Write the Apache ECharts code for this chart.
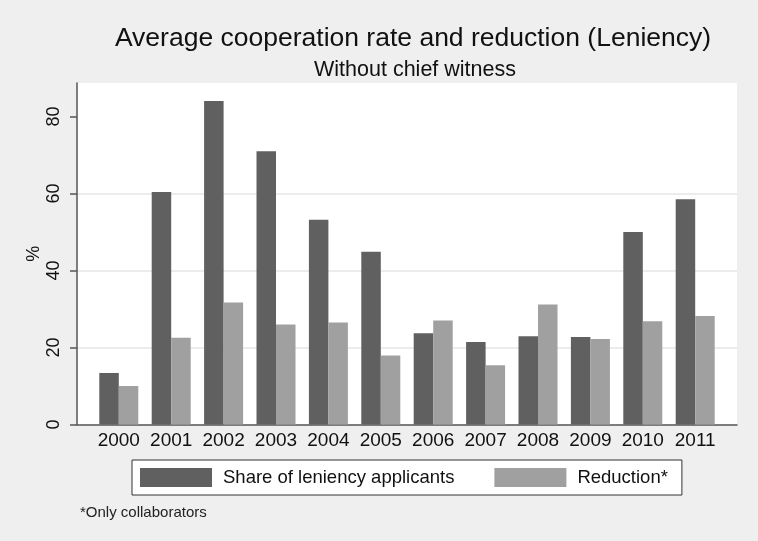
<!DOCTYPE html>
<html><head><meta charset="utf-8">
<script src="https://cdn.jsdelivr.net/npm/echarts@6/dist/echarts.min.js"></script>
<style>html,body{margin:0;padding:0;background:#efefef}#c{width:758px;height:541px}</style>
</head><body><div id="c"></div>
<script>
const categories = ['2000','2001','2002','2003','2004','2005','2006','2007','2008','2009','2010','2011'];
const shareApplicants = [13.4, 60.4, 84.0, 71.0, 53.2, 44.9, 23.7, 21.4, 22.9, 22.7, 50.0, 58.5];
const reduction = [10.0, 22.5, 31.7, 26.0, 26.5, 17.9, 27.0, 15.4, 31.2, 22.2, 26.8, 28.2];
const yTicks = [0, 20, 40, 60, 80];
const seriesNames = ['Share of leniency applicants', 'Reduction*'];

const FONT = '"Liberation Sans", Arial, sans-serif';
const YMAX = 88.7;
const chart = echarts.init(document.getElementById('c'), null, {renderer: 'canvas'});
chart.setOption({
  backgroundColor: '#efefef',
  animation: false,
  title: [
    {text: 'Average cooperation rate and reduction (Leniency)', left: 408, top: 20, textAlign: 'center',
     textStyle: {fontFamily: FONT, fontSize: 26.5, fontWeight: 'normal', color: '#111'}},
    {text: 'Without chief witness', left: 410, top: 54, textAlign: 'center',
     textStyle: {fontFamily: FONT, fontSize: 21.5, fontWeight: 'normal', color: '#111'}}
  ],
  legend: {
    left: 132, top: 460,
    data: seriesNames,
    orient: 'horizontal',
    itemWidth: 72, itemHeight: 19, itemGap: 40,
    padding: [8, 14, 8, 8],
    backgroundColor: '#ffffff',
    borderColor: '#333',
    borderWidth: 1,
    borderRadius: 0,
    icon: 'rect',
    textStyle: {fontFamily: FONT, fontSize: 18.5, color: '#111', padding: [0, 0, 0, 6]}
  },
  graphic: [
    {type: 'text', left: 80, top: 505,
     style: {text: '*Only collaborators', font: '15px "Liberation Sans Narrow", "Liberation Sans", sans-serif', fill: '#222'}}
  ],
  grid: [
    {left: 77, right: 21, top: 83, bottom: 116.5, show: true, backgroundColor: '#ffffff', borderWidth: 0},
    {left: 92.6, right: 36.6, top: 83, bottom: 116.5}
  ],
  xAxis: [
    {gridIndex: 0, type: 'value', min: 0, max: 1,
     axisLine: {show: true, lineStyle: {color: '#555', width: 1.5}},
     axisTick: {show: false}, axisLabel: {show: false}, splitLine: {show: false}},
    {gridIndex: 1, type: 'category', data: categories,
     axisLine: {show: false}, axisTick: {show: false},
     axisLabel: {interval: 0, hideOverlap: false, fontFamily: FONT, fontSize: 19, color: '#111', margin: 7}}
  ],
  yAxis: [
    {gridIndex: 0, type: 'value', min: 0, max: YMAX, interval: 20,
     name: '%', nameLocation: 'middle', nameGap: 33.5, nameRotate: 90, nameMoveOverlap: false,
     nameTextStyle: {fontFamily: FONT, fontSize: 18, color: '#111'},
     axisLine: {show: true, lineStyle: {color: '#555', width: 1.5}},
     axisTick: {show: true, length: 7, customValues: yTicks, lineStyle: {color: '#555', width: 1.5}},
     axisLabel: {rotate: 90, fontFamily: FONT, fontSize: 18, color: '#111', margin: 14,
       customValues: yTicks, formatter: v => yTicks.includes(v) ? String(v) : ''},
     splitLine: {show: true, showMaxLine: false, showMinLine: false, lineStyle: {color: '#e6e6e6', width: 1.5}}},
    {gridIndex: 1, type: 'value', min: 0, max: YMAX, show: false, splitLine: {show: false}}
  ],
  series: [
    {name: seriesNames[0], type: 'bar', xAxisIndex: 1, yAxisIndex: 1, data: shareApplicants,
     barWidth: 19.5, barGap: '0%', itemStyle: {color: '#606060'}},
    {name: seriesNames[1], type: 'bar', xAxisIndex: 1, yAxisIndex: 1, data: reduction,
     barWidth: 19.5, barGap: '0%', itemStyle: {color: '#a0a0a0'}}
  ]
});
</script></body></html>
